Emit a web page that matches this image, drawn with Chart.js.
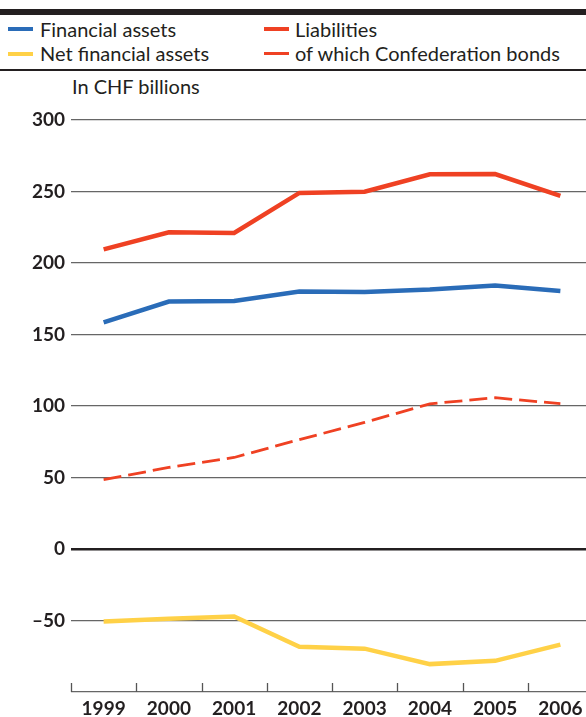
<!DOCTYPE html>
<html lang="en">
<head>
    <meta charset="UTF-8">
    <title>Financial assets and liabilities</title>
    <script src="https://cdn.jsdelivr.net/npm/chart.js"></script>
    <style>
        body { margin: 0; width: 586px; height: 717px; overflow: hidden; position: relative; background: #fff; font-family: Lato, sans-serif; color: #231f20; }
        .topbar { position: absolute; left: 0; top: 9px; width: 586px; height: 6px; background: #231f20; }
        .rule { position: absolute; left: 0; top: 69px; width: 586px; height: 2px; background: #231f20; }
        .item { position: absolute; font-size: 20px; line-height: 22px; white-space: nowrap; }
        .sw { position: absolute; width: 25px; height: 4px; }
        .unit { position: absolute; left: 72px; top: 74px; font-size: 20px; }
        #wrap { position: absolute; left: 0; top: 100px; width: 594px; height: 617px; }
    </style>
</head>
<body>
    <div class="topbar"></div>
    <div class="sw" style="left:8px;top:27px;background:#2a6cb8"></div>
    <div class="item" style="left:40px;top:18px">Financial assets</div>
    <div class="sw" style="left:264px;top:27px;background:#ef4123"></div>
    <div class="item" style="left:295px;top:18px">Liabilities</div>
    <div class="sw" style="left:8px;top:52px;background:#ffd147"></div>
    <div class="item" style="left:40px;top:42px">Net financial assets</div>
    <div class="sw" style="left:264px;top:52px;height:3px;background:#ef4123"></div>
    <div class="item" style="left:295px;top:42px">of which Confederation bonds</div>
    <div class="rule"></div>
    <div class="unit">In CHF billions</div>
    <div id="wrap"><canvas id="chart"></canvas></div>
    <script>
        const years = ['1999', '2000', '2001', '2002', '2003', '2004', '2005', '2006'];
        const financialAssets = [158.5, 173, 173.5, 180, 179.8, 181.5, 184.3, 180.5];
        const liabilities = [209.5, 221.5, 221, 249, 249.8, 262, 262.2, 247];
        const confederationBonds = [48.5, 57, 64, 76.5, 88.5, 101.5, 105.8, 101.6];
        const netFinancialAssets = [-50.7, -48.8, -47.2, -68.3, -69.7, -80.5, -78.2, -66.9];

        // small upward ticks on the bottom axis, between the years
        const yearTicks = {
            id: 'yearTicks',
            afterDraw(chart) {
                const x = chart.scales.x, ctx = chart.ctx;
                const step = x.width / years.length;
                ctx.save();
                ctx.strokeStyle = '#555';
                ctx.lineWidth = 1.3;
                for (let i = 0; i <= years.length; i++) {
                    const px = Math.round(x.left + i * step) + 0.5;
                    ctx.beginPath();
                    ctx.moveTo(px, x.top);
                    ctx.lineTo(px, x.top - 9);
                    ctx.stroke();
                }
                ctx.restore();
            }
        };

        const line = (data, color, width, dash) => ({
            data: data,
            borderColor: color,
            borderWidth: width,
            borderDash: dash || [],
            pointRadius: 0,
            tension: 0,
            fill: false,
            borderCapStyle: 'butt'
        });

        new Chart(document.getElementById('chart'), {
            type: 'line',
            data: {
                labels: years,
                datasets: [
                    line(netFinancialAssets, '#ffd147', 4.5),
                    line(confederationBonds, '#ef4123', 2.8, [18, 7]),
                    line(financialAssets, '#2a6cb8', 4.5),
                    line(liabilities, '#ef4123', 4.5)
                ]
            },
            options: {
                responsive: true,
                maintainAspectRatio: false,
                animation: false,
                layout: { padding: { top: 20, right: 1, left: 0, bottom: 0 } },
                plugins: { legend: { display: false }, tooltip: { enabled: false } },
                scales: {
                    x: {
                        offset: true,
                        grid: { display: false, drawTicks: false },
                        border: { display: false },
                        ticks: { padding: 5, color: '#231f20', font: { family: 'Lato', size: 19, weight: 'bold' }, maxRotation: 0 },
                        afterFit: s => { s.height = 25; }
                    },
                    y: {
                        min: -100,
                        max: 300,
                        border: { display: false },
                        grid: {
                            drawTicks: false,
                            color: c => c.tick.value === 0 ? '#231f20' : '#666',
                            lineWidth: c => c.tick.value === 0 ? 2.6 : 1.3
                        },
                        ticks: {
                            stepSize: 50,
                            padding: 6,
                            color: '#231f20',
                            font: { family: 'Lato', size: 19, weight: 'bold' },
                            callback: v => v === -100 ? '' : String(v).replace('-', '\u2013')
                        },
                        afterFit: s => { s.width = 71; }
                    }
                }
            },
            plugins: [yearTicks]
        });
    </script>
</body>
</html>
